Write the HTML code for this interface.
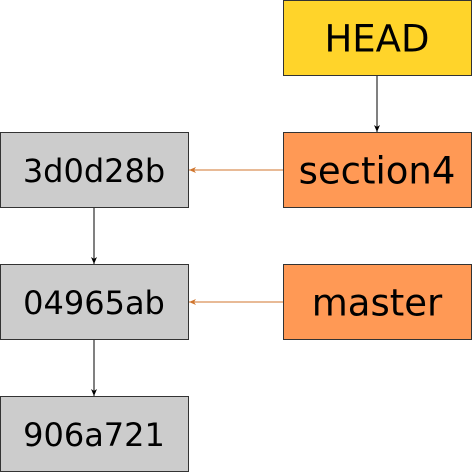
<!DOCTYPE html>
<html><head><style>
body{margin:0;width:472px;height:472px;background:#fff;overflow:hidden}
svg{display:block}
text{font-family:"DejaVu Sans","Liberation Sans",sans-serif;text-anchor:middle;dominant-baseline:central;fill:#000}
</style></head><body>
<svg width="472" height="472" viewBox="0 0 472 472">
<defs>
<marker id="ab" markerWidth="8" markerHeight="6" refX="7" refY="3" orient="auto" markerUnits="userSpaceOnUse"><path d="M0,0 L7,3 L0,6 L2,3 Z" fill="#000"/></marker>
<marker id="ao" markerWidth="8" markerHeight="6" refX="7" refY="3" orient="auto" markerUnits="userSpaceOnUse"><path d="M0,0 L7,3 L0,6 L2,3 Z" fill="#d0762e"/></marker>
</defs>
<g stroke="#333" stroke-width="1">
<rect x="283.5" y="0.5" width="188" height="75" fill="#ffd42a"/>
<rect x="283.5" y="132.5" width="188" height="75" fill="#ff9955"/>
<rect x="283.5" y="264.5" width="188" height="75" fill="#ff9955"/>
<rect x="0.5" y="132.5" width="188" height="75" fill="#cccccc"/>
<rect x="0.5" y="264.5" width="188" height="75" fill="#cccccc"/>
<rect x="0.5" y="396.5" width="188" height="75" fill="#cccccc"/>
</g>
<line x1="377" y1="76" x2="377" y2="132" stroke="#000" marker-end="url(#ab)"/>
<line x1="94" y1="208" x2="94" y2="264" stroke="#000" marker-end="url(#ab)"/>
<line x1="94" y1="340" x2="94" y2="396" stroke="#000" marker-end="url(#ab)"/>
<line x1="283" y1="170" x2="189" y2="170" stroke="#d0762e" marker-end="url(#ao)"/>
<line x1="283" y1="302" x2="189" y2="302" stroke="#d0762e" marker-end="url(#ao)"/>
<text x="377" y="39" font-size="37">HEAD</text>
<text x="377" y="171" font-size="37">section4</text>
<text x="377" y="303" font-size="37">master</text>
<text x="94" y="171" font-size="32">3d0d28b</text>
<text x="94" y="303" font-size="32">04965ab</text>
<text x="94" y="435" font-size="32">906a721</text>
</svg>
</body></html>
